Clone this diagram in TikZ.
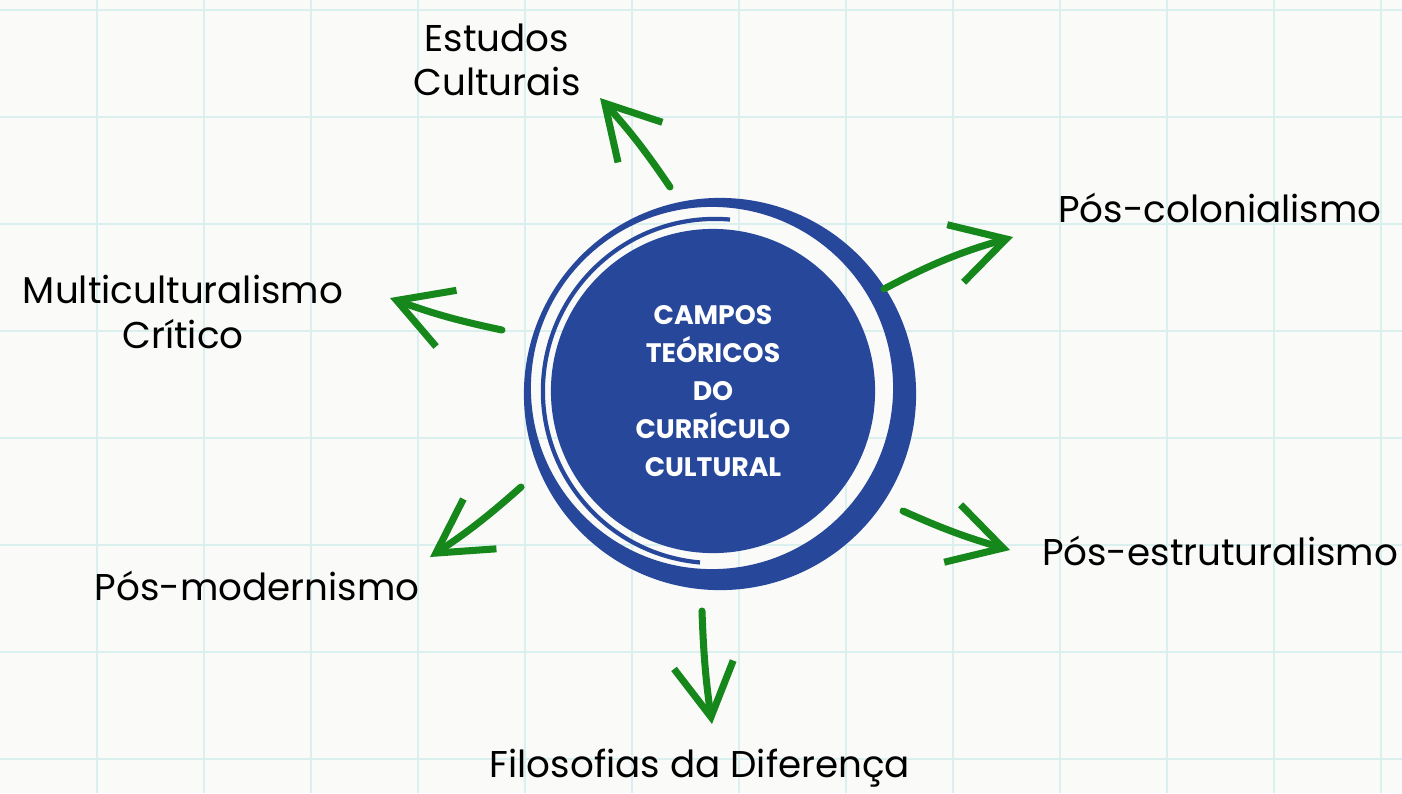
\documentclass[tikz,border=0pt]{standalone}
\usepackage{fontspec}
\setmainfont{Poppins}
\usetikzlibrary{arrows.meta}
\definecolor{gridcyan}{HTML}{DAF0EE}
\definecolor{paper}{HTML}{FAFAF9}
\definecolor{ringblue}{HTML}{27479A}
\definecolor{arrowgreen}{HTML}{16871B}

\begin{document}
\begin{tikzpicture}[
                    x=0.01cm,
                    y=-0.01cm,
                    campo/.style={font=\fontsize{10.6}{12.6}\selectfont, align=center, inner sep=0pt},
                    seta/.style={arrowgreen, line width=2pt, line cap=round,
                                 -{Straight Barb[length=15pt,width=17pt,line width=2pt]}},
                    centro/.style={circle, fill=ringblue, minimum size=3.24cm, text=white,
                                   align=center, font=\fontsize{7.6}{10.8}\selectfont\bfseries}
                ]
                \fill[paper] (0,0) rectangle (1402,793);
                \useasboundingbox (0,0) rectangle (1402,793);
                \foreach \gx in {0,...,12}
                    \draw[gridcyan, line width=0.8pt] (97+107*\gx,0) -- (97+107*\gx,793);
                \foreach \gy in {0,...,7}
                    \draw[gridcyan, line width=0.8pt] (0,10+107*\gy) -- (1402,10+107*\gy);

                \fill[ringblue, even odd rule] (720,394) circle (1.96cm) (712,388) circle (1.81cm);
                \draw[ringblue, line width=1.2pt] (715,391) ++(85:1.72cm) arc[start angle=85, end angle=265, radius=1.72cm];
                \node[centro] (nucleo) at (713,391) {CAMPOS\\TEÓRICOS\\DO\\CURRÍCULO\\CULTURAL};

                \node[campo] (estudos) at (497,60)   {Estudos\\Culturais};
                \node[campo] (poscol)  at (1220,208) {Pós-colonialismo};
                \node[campo] (multi)   at (183,312)  {Multiculturalismo\\Crítico};
                \node[campo] (posest)  at (1220,551) {Pós-estruturalismo};
                \node[campo] (posmod)  at (257,586)  {Pós-modernismo};
                \node[campo] (filo)    at (700,768)  {Filosofias da Diferença};

                \coordinate (estudosA) at (670,187);
                \coordinate (estudosB) at (600,98);
                \coordinate (poscolA)  at (884,289);
                \coordinate (poscolB)  at (1013,237);
                \coordinate (multiA)   at (502,330);
                \coordinate (multiB)   at (390,298);
                \coordinate (posestA)  at (903,511);
                \coordinate (posestB)  at (1010,550);
                \coordinate (posmodA)  at (521,487);
                \coordinate (posmodB)  at (430,557);
                \coordinate (filoA)    at (702,611);
                \coordinate (filoB)    at (712,724);

                \path
                (estudosA) edge[seta, bend right=4] (estudosB)
                (poscolA)  edge[seta, bend left=6]  (poscolB)
                (multiA)   edge[seta, bend left=4]  (multiB)
                (posestA)  edge[seta, bend right=4] (posestB)
                (posmodA)  edge[seta, bend left=4]  (posmodB)
                (filoA)    edge[seta, bend right=3] (filoB)
                ;
            \end{tikzpicture}
\end{document}
